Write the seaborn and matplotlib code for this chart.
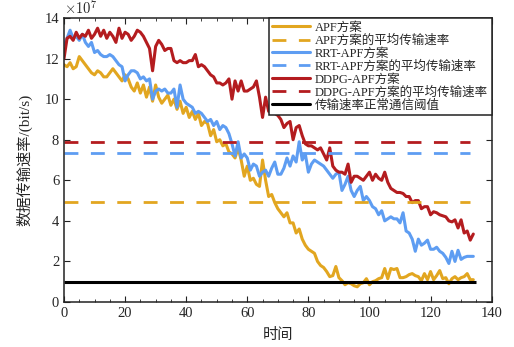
import matplotlib
matplotlib.use('Agg')
import matplotlib.pyplot as plt
from matplotlib.lines import Line2D
from matplotlib.ticker import MultipleLocator
import numpy as np
import pandas as pd
import seaborn as sns

# values in units of 1e7 bit/s, one sample per time step
apf = [11.7, 11.6, 11.8, 11.5, 11.6, 12.1, 11.9, 11.7, 11.5, 11.3,
       11.2, 11.4, 11.3, 11.1, 11.1, 11.3, 11.5, 11.3, 11.1, 10.9,
       11.2, 11.0, 10.6, 10.4, 10.8, 10.3, 10.7, 10.1, 10.6, 9.9,
       10.7, 10.1, 9.8, 10.0, 10.2, 9.7, 10.0, 9.5, 9.9, 9.3,
       9.6, 9.1, 9.4, 9.0, 9.3, 8.7, 8.9, 8.8, 8.2, 8.5,
       7.9, 8.0, 7.7, 7.8, 7.4, 7.3, 7.1, 7.6, 7.0, 6.2,
       6.7, 6.0, 6.1, 5.8, 5.7, 7.0, 6.0, 5.2, 5.3, 4.9,
       4.6, 4.4, 4.2, 4.4, 3.9, 3.9, 3.4, 3.6, 3.1, 2.8,
       2.6, 2.5, 2.4, 2.0, 1.8, 1.7, 1.5, 1.25, 1.3, 1.75,
       1.2, 1.05, 0.85, 0.95, 0.9, 0.8, 0.75, 0.9, 0.95, 1.15,
       0.85, 1.0, 1.05, 1.15, 1.2, 1.65, 1.15, 1.65, 1.6, 1.65,
       1.2, 1.2, 1.25, 1.35, 1.4, 1.3, 1.25, 1.05, 1.4, 1.1,
       1.5, 1.1, 1.3, 1.55, 1.15, 1.2, 0.9, 1.15, 1.25, 1.1,
       1.2, 1.25, 1.4, 1.1, 1.1]

rrt = [12.7, 13.0, 13.4, 13.0, 13.1, 12.9, 13.2, 12.8, 12.6, 12.8,
       12.3, 12.4, 12.2, 12.1, 12.1, 12.2, 12.1, 11.9, 11.7, 11.6,
       10.9, 11.2, 11.4, 11.4, 11.3, 11.0, 11.1, 10.9, 11.0, 10.0,
       10.4, 10.5, 10.4, 10.5, 10.3, 10.3, 10.5, 9.6, 10.7, 10.0,
       9.8, 9.7, 9.6, 9.3, 9.4, 9.3, 9.1, 8.9, 9.0, 8.7,
       8.9, 8.5, 8.7, 8.6, 8.3, 7.8, 7.2, 7.9, 7.1, 7.3,
       7.1, 6.5, 6.8, 6.7, 6.2, 6.4, 6.5, 6.2, 6.6, 6.9,
       6.3, 6.3, 6.6, 7.1, 6.7, 7.2, 6.9, 7.9, 7.0, 7.3,
       6.4, 6.8, 7.0, 6.9, 6.8, 6.7, 6.5, 6.3, 6.1, 6.3,
       6.4, 5.5, 5.8, 6.2, 5.5, 5.2, 5.5, 5.7, 5.0, 5.2,
       5.0, 4.7, 4.6, 4.3, 4.5, 4.0, 4.1, 4.2, 4.1, 4.1,
       3.9, 4.4, 3.5, 3.4, 3.1, 2.5, 3.1, 2.8, 2.9, 3.05,
       2.6, 2.6, 2.7, 2.5, 2.4, 2.2, 1.9, 2.5, 2.0, 2.55,
       2.1, 2.2, 2.25, 2.25, 2.25]

ddpg = [12.0, 13.0, 13.1, 12.9, 13.3, 13.0, 13.2, 13.1, 13.4, 13.0,
        13.2, 13.5, 13.1, 13.4, 13.0, 13.3, 13.1, 12.8, 13.5, 13.0,
        13.3, 13.2, 12.9, 13.1, 13.4, 13.3, 13.1, 12.8, 12.5, 11.4,
        12.6, 12.9, 12.7, 12.4, 12.5, 12.5, 11.9, 11.8, 11.9, 11.8,
        11.8, 11.9, 11.9, 12.2, 11.6, 11.7, 11.6, 11.4, 11.2, 11.1,
        10.8, 10.8, 10.7, 10.8, 11.0, 10.0, 10.9, 10.4, 10.9, 10.4,
        10.4, 10.5, 10.6, 10.9, 10.1, 9.1, 10.1, 9.4, 9.7, 9.3,
        9.2, 9.0, 8.6, 8.8, 8.9, 8.0, 8.6, 8.7, 8.2, 7.8,
        7.7, 7.7, 7.6, 7.5, 7.6, 7.3, 7.0, 7.6, 6.7, 6.5,
        6.4, 6.4, 6.3, 6.8, 5.9, 6.2, 6.2, 6.1, 6.0, 6.2,
        6.4, 6.0, 6.3, 6.1, 6.0, 6.4, 5.9, 5.6, 5.5, 5.4,
        5.4, 5.35, 5.2, 5.2, 4.9, 5.0, 5.0, 4.6, 4.7, 4.7,
        4.3, 4.45, 4.4, 4.3, 4.25, 4.2, 4.0, 3.95, 4.05, 3.65,
        4.05, 3.4, 3.5, 3.05, 3.35]

avg_rates = [4.95, 7.35, 7.9]   # APF, RRT-APF, DDPG-APF
threshold = 1.0

names = ['APF方案', 'RRT-APF方案', 'DDPG-APF方案']
avg_names = ['APF方案的平均传输速率', 'RRT-APF方案的平均传输速率', 'DDPG-APF方案的平均传输速率']
thr_name = '传输速率正常通信阈值'
colors = ['#E2A620', '#5E9DF2', '#B41C1F']

t = np.arange(len(apf))
df = pd.DataFrame({'时间': np.tile(t, 3),
                   'rate': apf + rrt + ddpg,
                   'scheme': np.repeat(names, len(t))})

sns.set_style('ticks')
plt.rcParams['font.family'] = ['Liberation Serif', 'Noto Sans CJK SC']
plt.rcParams['mathtext.fontset'] = 'cm'
plt.rcParams['axes.unicode_minus'] = False

fig = plt.figure(figsize=(5.14, 3.47), dpi=100)
ax = fig.add_axes([0.1245, 0.1297, 0.832, 0.8183])

sns.lineplot(data=df, x='时间', y='rate', hue='scheme', hue_order=names,
             palette=colors, lw=2.2, ax=ax, legend=False)

for avg, c in zip(avg_rates, colors):
    ax.hlines(avg, t[0], t[-1] - 1, colors=c, lw=2.0, linestyles=(0, (5, 4.5)))
ax.hlines(threshold, t[0], t[-1] + 1, colors='black', lw=2.2)

ax.set_xlim(0, 140)
ax.set_ylim(0, 14)
ax.xaxis.set_major_locator(MultipleLocator(20))
ax.xaxis.set_minor_locator(MultipleLocator(5))
ax.yaxis.set_major_locator(MultipleLocator(2))
ax.tick_params(which='both', direction='in', top=True, right=True, labelsize=10.5,
               color='#222222')
ax.tick_params(which='major', length=4)
ax.tick_params(which='minor', length=2)
for s in ax.spines.values():
    s.set_linewidth(1.1)
    s.set_color('#222222')

ax.set_xlabel('时间', fontsize=11, labelpad=6)
ax.set_ylabel('数据传输速率/(bit/s)', fontsize=11, labelpad=9)
ax.text(0.0, 1.006, r'$\times10^7$', transform=ax.transAxes, fontsize=10.5,
        ha='left', va='bottom')

handles = []
labels = []
for n, an, c in zip(names, avg_names, colors):
    handles.append(Line2D([], [], color=c, lw=2.2))
    labels.append(n)
    handles.append(Line2D([], [], color=c, lw=2.0, linestyle=(0, (5, 4.5))))
    labels.append(an)
handles.append(Line2D([], [], color='black', lw=2.2))
labels.append(thr_name)

leg = ax.legend(handles, labels, loc='upper right', bbox_to_anchor=(1, 1),
                borderaxespad=0, fontsize=9, handlelength=3.0, handletextpad=0.4,
                labelspacing=0.06, borderpad=0.3, fancybox=False, framealpha=1,
                edgecolor='#222222')
leg.get_frame().set_linewidth(1.1)

fig.savefig('out.png', dpi=100)
